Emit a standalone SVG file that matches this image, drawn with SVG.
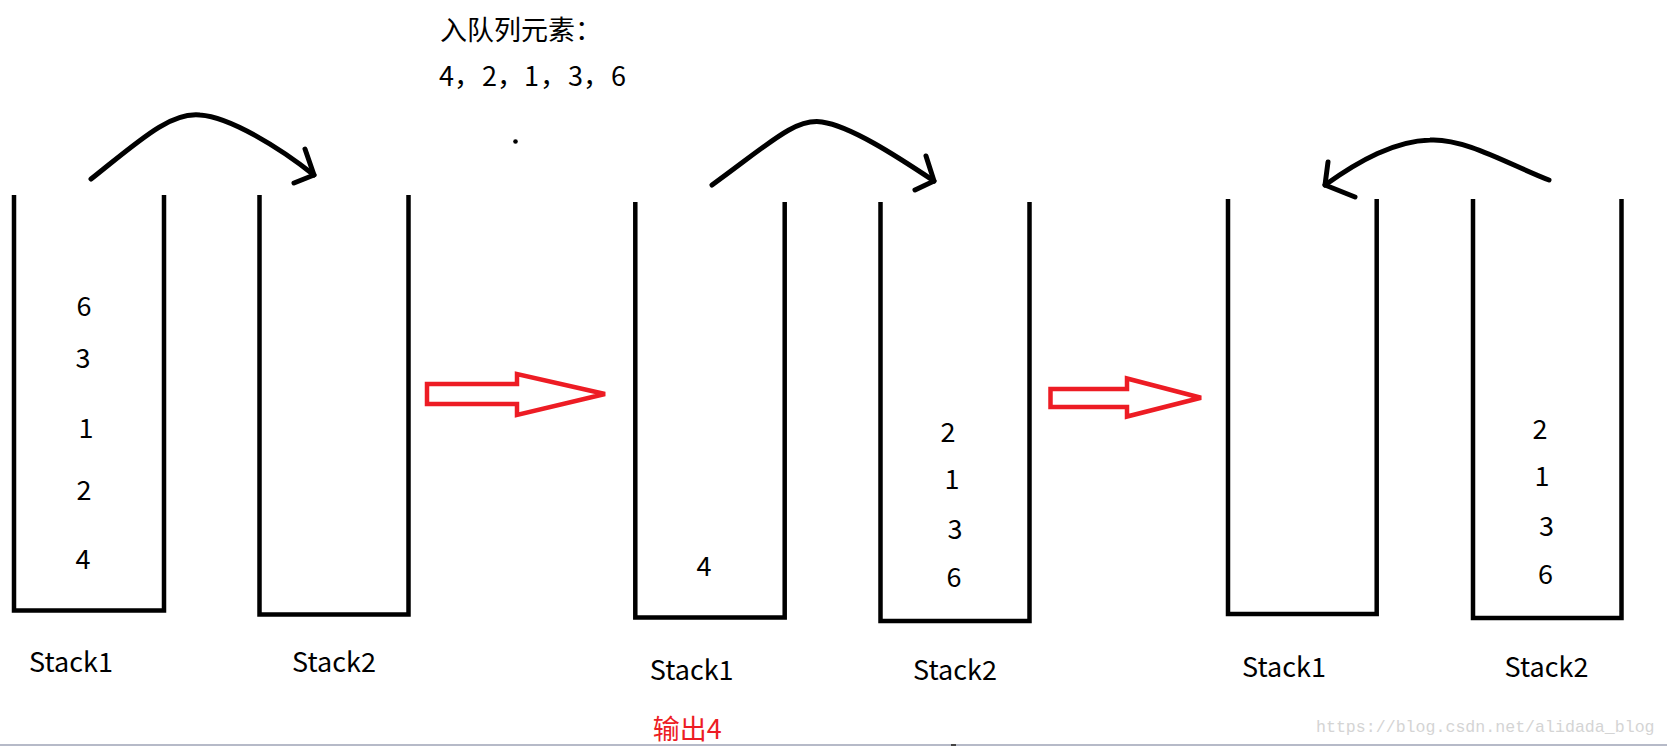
<svg xmlns="http://www.w3.org/2000/svg" width="1667" height="746" viewBox="0 0 1667 746">
<style>
.stack{fill:none;stroke:#000;stroke-width:4.5;stroke-linejoin:miter;stroke-linecap:butt}
.curve{fill:none;stroke:#000;stroke-width:5;stroke-linecap:round;stroke-linejoin:round}
.block{fill:none;stroke:#ed1c24;stroke-width:4.5;stroke-linejoin:miter}
.t{font-family:"Noto Sans CJK SC","Noto Sans",sans-serif;font-size:27px;fill:#000}
.d{font-family:"Noto Sans CJK SC","Noto Sans",sans-serif;font-size:27px;fill:#000;text-anchor:middle}
.lbl{font-family:"Noto Sans CJK SC","Noto Sans",sans-serif;font-size:27px;fill:#000;text-anchor:middle}
.wm{font-family:"Liberation Mono",monospace;font-size:16.6px;fill:#d4d4d4}
</style>
<rect width="1667" height="746" fill="#fff"/>

<g id="title">
<text class="t" x="440" y="40">入队列元素：</text>
<text class="t" x="439 454 482 497 524 540 568 583 611" y="86">4，2，1，3，6</text>
<circle cx="515.5" cy="141.5" r="2.3" fill="#000"/>
</g>

<g id="panel1-stack1">
<path class="stack" d="M14,195 V610.5 H164 V195"/>
<text class="d" x="84" y="316">6</text>
<text class="d" x="83" y="368">3</text>
<text class="d" x="86" y="438">1</text>
<text class="d" x="84" y="500">2</text>
<text class="d" x="83" y="569">4</text>
<text class="lbl" x="71" y="672">Stack1</text>
</g>
<g id="panel1-stack2">
<path class="stack" d="M259.5,195 V614.5 H408.5 V195"/>
<text class="lbl" x="334" y="672">Stack2</text>
</g>

<g id="panel2-stack1">
<path class="stack" d="M635.3,202 V617.5 H784.7 V202"/>
<text class="d" x="704" y="576">4</text>
<text class="lbl" x="691.7" y="680">Stack1</text>
<text x="652.7" y="739" font-family="'Noto Sans CJK SC','Noto Sans',sans-serif" font-size="27" fill="#ed1c24">输出4</text>
</g>
<g id="panel2-stack2">
<path class="stack" d="M880.5,202 V621 H1029.5 V202"/>
<text class="d" x="948" y="442">2</text>
<text class="d" x="952" y="489">1</text>
<text class="d" x="955" y="539">3</text>
<text class="d" x="954" y="587">6</text>
<text class="lbl" x="955" y="680">Stack2</text>
</g>

<g id="panel3-stack1">
<path class="stack" d="M1228,199 V614 H1376.7 V199"/>
<text class="lbl" x="1284" y="677">Stack1</text>
</g>
<g id="panel3-stack2">
<path class="stack" d="M1473,199 V618 H1621.5 V199"/>
<text class="d" x="1540" y="439">2</text>
<text class="d" x="1542" y="486">1</text>
<text class="d" x="1546.5" y="536">3</text>
<text class="d" x="1545.5" y="584">6</text>
<text class="lbl" x="1546.5" y="677">Stack2</text>
</g>

<g id="connectors">
<path class="curve" d="M91,179 C140,140 170,112 200,115 C230,117 280,148 314,175"/>
<path class="curve" d="M305,149 L314,175 L294,183"/>
<path class="curve" d="M712,185 C770,143 795,118 822,122 C850,126 895,155 934,181"/>
<path class="curve" d="M926,156 L934,181 L915,190"/>
<path class="curve" d="M1549,180 C1510,165 1465,138 1430,140 C1395,141 1360,160 1325,185"/>
<path class="curve" d="M1328,162 L1325,185 L1355,197"/>
<polygon class="block" points="427,384 517,384 517,374 605,394 517,415 517,404 427,404"/>
<polygon class="block" points="1050.5,389 1127,389 1127,378.5 1201,397.7 1127,416.5 1127,407 1050.5,407"/>
</g>

<g id="footer">
<text class="wm" x="1316" y="731.5">https://blog.csdn.net/alidada_blog</text>
<rect x="0" y="744" width="1667" height="2" fill="#b6bac8"/>
<rect x="951" y="744" width="5" height="2" fill="#444"/>
</g>
</svg>
